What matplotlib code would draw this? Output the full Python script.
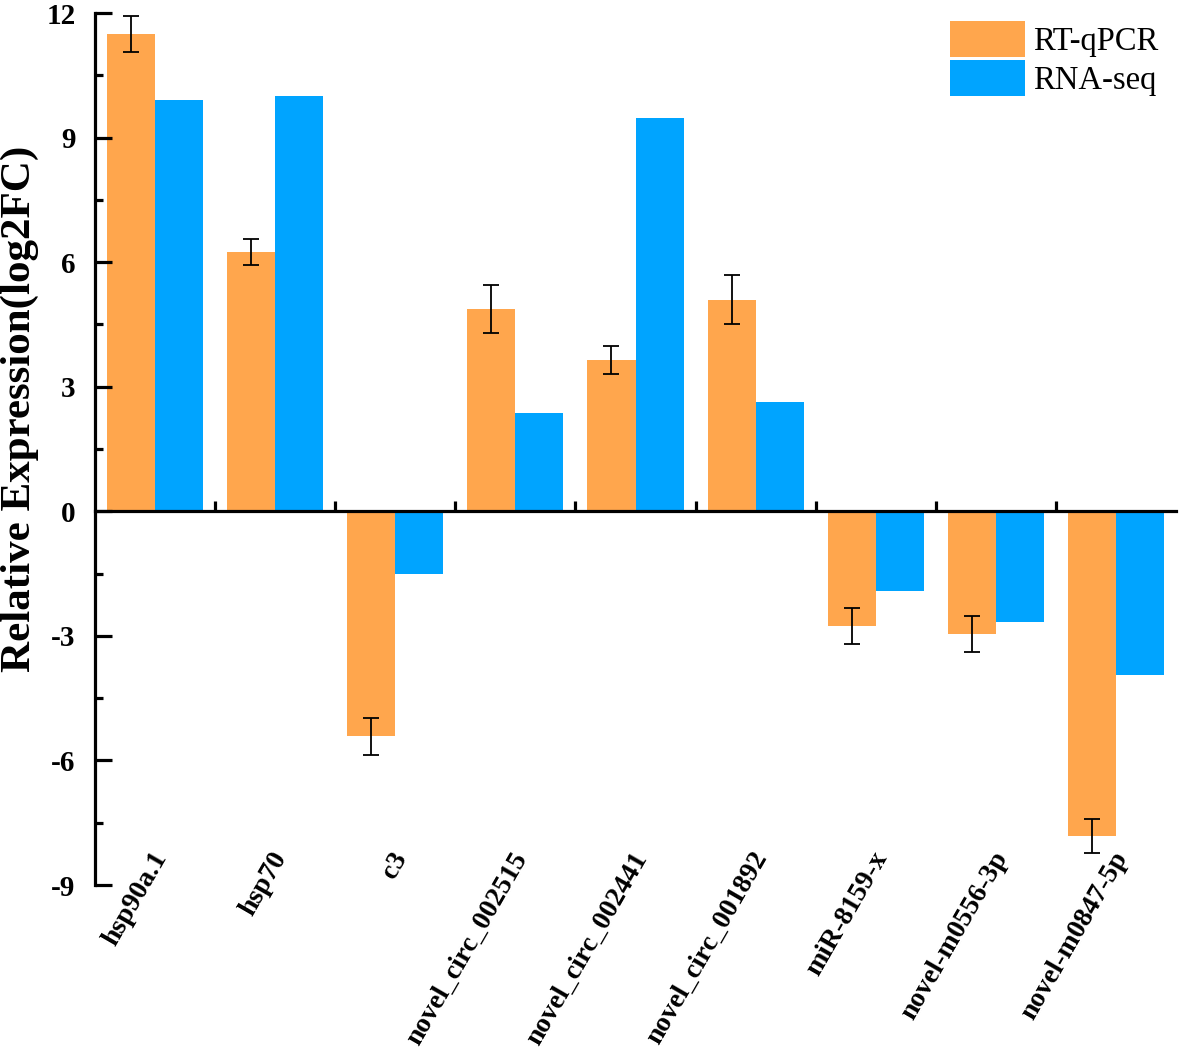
import numpy as np
import matplotlib
matplotlib.use("Agg")
import matplotlib.pyplot as plt
from matplotlib.ticker import MultipleLocator

plt.rcParams['font.family'] = ['Liberation Serif', 'DejaVu Serif']
plt.rcParams['axes.unicode_minus'] = False

genes = ["hsp90a.1", "hsp70", "c3", "novel_circ_002515", "novel_circ_002441",
         "novel_circ_001892", "miR-8159-x", "novel-m0556-3p", "novel-m0847-5p"]
qpcr = [11.5, 6.24, -5.42, 4.87, 3.64, 5.1, -2.76, -2.96, -7.82]
qpcr_err = [0.43, 0.31, 0.45, 0.58, 0.34, 0.59, 0.44, 0.43, 0.42]
rnaseq = [9.9, 10.0, -1.52, 2.36, 9.47, 2.63, -1.93, -2.67, -3.95]

orange = '#FFA64D'
blue = '#00A4FF'

fig = plt.figure(figsize=(11.81, 10.55), dpi=100)
ax = fig.add_axes([95 / 1181, 1 - 885 / 1055, 1081 / 1181, 872 / 1055])

x = np.arange(len(genes))
w = 0.4
ax.bar(x - w / 2, qpcr, w, color=orange, label='RT-qPCR',
       yerr=qpcr_err, error_kw=dict(ecolor='black', elinewidth=1.3, capsize=6, capthick=1.3))
ax.bar(x + w / 2, rnaseq, w, color=blue, label='RNA-seq')

ax.set_xlim(-0.5, len(genes) - 0.5)
ax.set_ylim(-9, 12)

# axes frame
ax.spines['top'].set_visible(False)
ax.spines['right'].set_visible(False)
ax.spines['bottom'].set_position(('data', 0))
ax.spines['left'].set_linewidth(2.3)
ax.spines['bottom'].set_linewidth(2.3)

ax.yaxis.set_major_locator(MultipleLocator(3))
ax.yaxis.set_minor_locator(MultipleLocator(1.5))
ax.tick_params(axis='y', which='major', direction='in', length=12, width=2.3,
               labelsize=21, pad=14)
ax.tick_params(axis='y', which='minor', direction='in', length=6, width=2.3)
for t in ax.get_yticklabels():
    t.set_fontweight('bold')

ax.set_xticks(np.arange(len(genes) - 1) + 0.5)
ax.tick_params(axis='x', which='major', direction='in', length=7, width=2.3,
               labelbottom=False)

for i, g in enumerate(genes):
    ax.text(i + 0.05, -8.25, g, rotation=60, rotation_mode='anchor',
            ha='right', va='center', fontsize=20, fontweight='bold')

fig.text(20 / 1181, 1 - 409 / 1055, 'Relative Expression(log2FC)', rotation=90,
         ha='center', va='center', fontsize=31, fontweight='bold')

ax.legend(loc='upper right', bbox_to_anchor=(0.987, 0.994), frameon=False, fontsize=23.5,
          handlelength=2.3, handleheight=1.3, handletextpad=0.25, labelspacing=0.1,
          borderaxespad=0.0, borderpad=0.1)

fig.savefig('out.png', dpi=100)
